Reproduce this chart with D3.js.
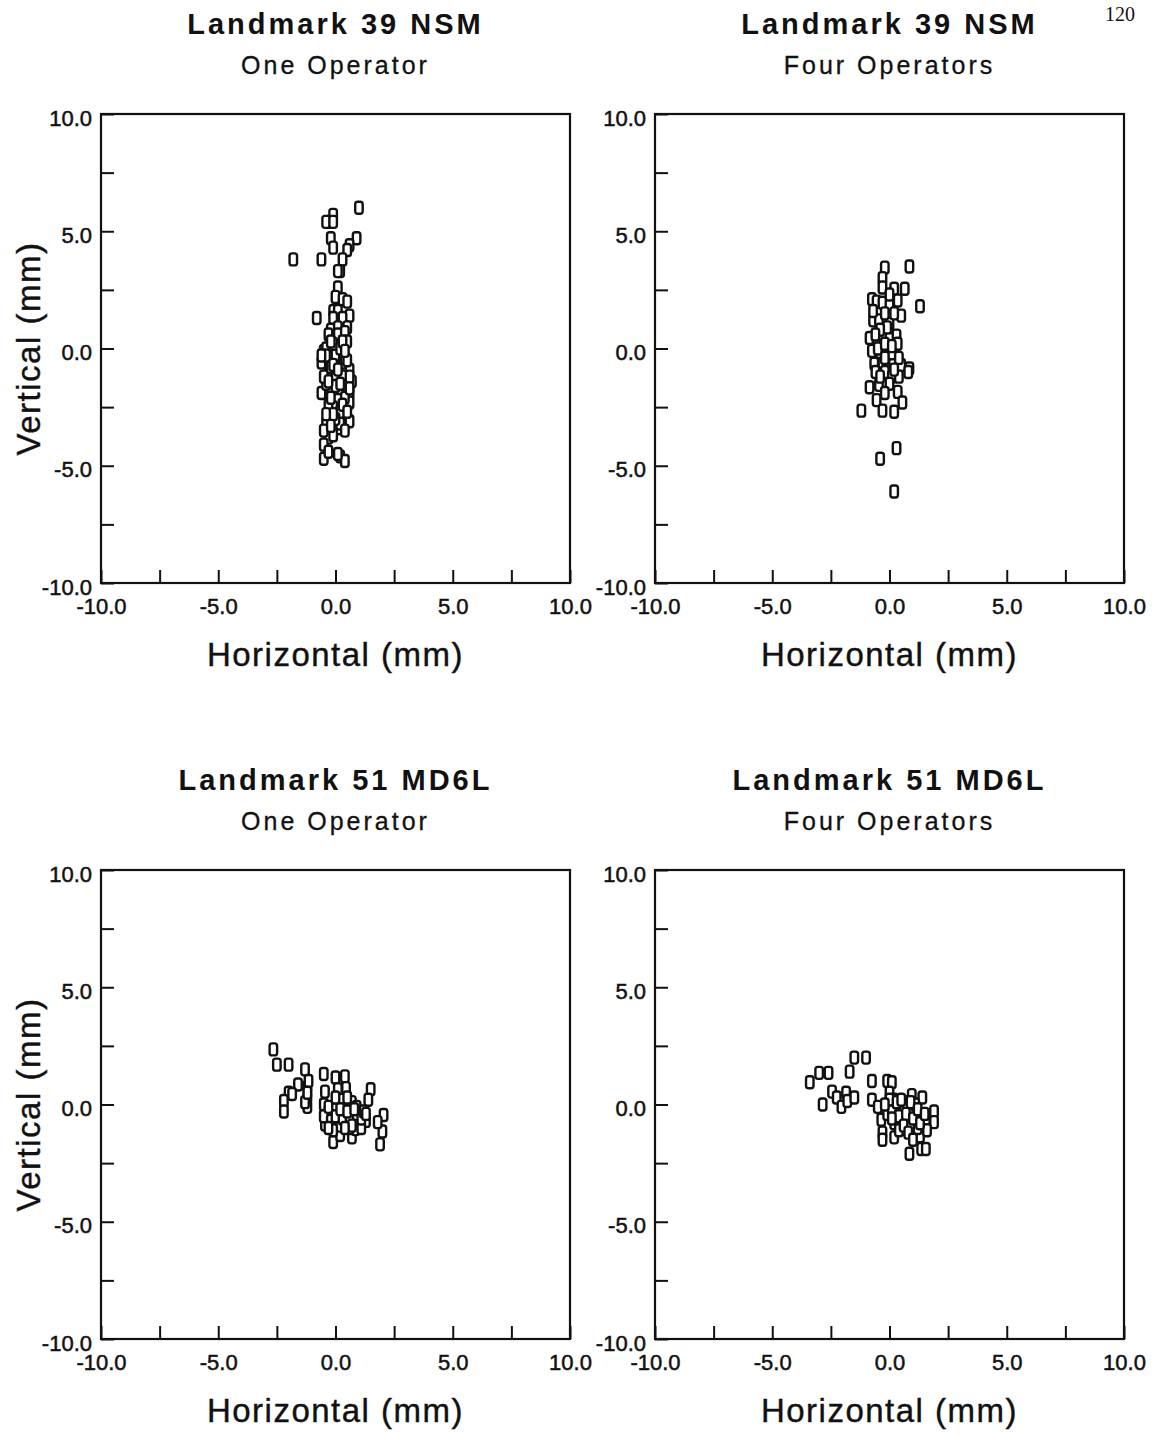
<!DOCTYPE html>
<html>
<head>
<meta charset="utf-8">
<script src="https://cdn.jsdelivr.net/npm/d3@7"></script>
<style>
  body { margin: 0; background: #fff; }
  svg text { font-family: "Liberation Sans", Arial, sans-serif; fill: #111; }
</style>
</head>
<body>
<div id="chart"></div>
<script>
// Titles for each panel (row by row)
const panelTitles = ["Landmark 39 NSM", "Landmark 39 NSM", "Landmark 51 MD6L", "Landmark 51 MD6L"];
const panelSubtitles = ["One Operator", "Four Operators", "One Operator", "Four Operators"];

// Axis ticks (mm)
const tickValues = [-10, -7.5, -5, -2.5, 0, 2.5, 5, 7.5, 10];
const labelValues = [-10, -5, 0, 5, 10];

// Landmark 39 NSM, one operator  [horizontal, vertical]
const nsmOne = [
  [1.0, 6.0], [-0.1, 5.7], [-0.3, 5.4], [-0.4, 5.4], [-0.1, 5.4], [-0.2, 4.7], [-0.1, 4.3],
  [0.9, 4.7], [0.6, 4.4], [0.5, 4.2], [-1.8, 3.8], [-0.6, 3.8], [0.3, 3.8], [0.2, 3.3],
  [0.1, 3.3], [0.1, 2.6], [0.0, 2.2], [0.3, 2.1], [0.5, 2.0], [-0.1, 1.6], [0.1, 1.6],
  [0.6, 1.4], [-0.8, 1.3], [-0.1, 1.3], [0.3, 1.3], [-0.2, 0.8], [0.1, 0.9], [0.5, 0.9],
  [-0.3, 0.6], [0.1, 0.6], [0.4, 0.7], [-0.5, -0.1], [-0.6, -0.6], [-0.1, -0.2], [0.2, -0.1],
  [0.1, -0.5], [-0.3, -1.1], [0.6, -0.9], [0.7, -1.4], [0.0, -1.2], [0.3, -1.2], [-0.6, -1.9],
  [-0.2, -1.8], [0.2, -1.9], [0.6, -1.9], [0.1, -2.2], [-0.1, -2.5], [0.6, -2.3], [-0.3, -3.0],
  [-0.4, -3.2], [0.6, -3.1], [0.1, -3.4], [0.2, -3.2], [-0.3, -3.8], [-0.5, -4.1], [-0.5, -4.7],
  [0.2, -4.6], [0.4, -4.8], [-0.4, 0.0], [0.0, -0.3], [-0.2, -0.8], [0.3, -0.6], [0.5, -1.6],
  [-0.4, -1.5], [0.0, -1.6], [0.4, -2.1], [-0.3, -2.4], [0.2, -2.7], [-0.5, -3.5], [0.0, -3.0],
  [0.6, -1.2], [0.1, -4.5], [-0.1, -3.7], [0.5, 0.3], [-0.1, 0.2], [0.2, 0.0], [-0.3, -4.4],
  [-0.2, 0.3], [0.3, 0.3], [-0.4, -0.3], [0.4, -0.4], [-0.1, -0.7], [0.5, -0.5], [-0.5, -1.2],
  [0.2, -1.5], [0.6, -1.7], [-0.2, -2.1], [0.3, -2.4], [0.5, -2.7], [-0.1, -2.8], [-0.4, -2.8],
  [0.4, -3.5], [-0.2, -3.3], [0.1, -0.9], [-0.3, -1.4], [0.4, -0.1], [-0.6, -0.3]
];

// Landmark 39 NSM, four operators
const nsmFour = [
  [0.85, 3.5], [-0.2, 3.45], [-0.3, 3.0], [-0.3, 2.6], [0.2, 2.55], [0.65, 2.55], [1.3, 1.8],
  [-0.75, 2.1], [-0.55, 2.0], [-0.3, 1.95], [0.0, 1.9], [0.35, 2.05], [0.5, 1.4], [-0.7, 1.2],
  [-0.45, 1.2], [0.0, 1.05], [-0.85, 0.45], [-0.55, 0.35], [-0.3, 0.55], [0.0, 0.4], [0.3, 0.55],
  [0.35, 0.2], [-0.75, -0.1], [-0.4, -0.15], [-0.1, -0.1], [0.2, -0.3], [-0.65, -0.65],
  [-0.3, -0.65], [0.15, -0.7], [0.5, -0.7], [0.85, -0.85], [-0.85, -1.65], [-0.45, -1.55],
  [0.35, -1.85], [-0.55, -2.2], [-0.3, -2.65], [0.2, -2.7], [0.55, -2.3], [-1.2, -2.65],
  [0.3, -4.25], [-0.4, -4.7], [0.2, -6.1], [-0.2, -1.0], [0.1, -1.2], [-0.6, -1.0], [0.4, -1.2],
  [-0.1, 0.9], [0.1, -0.2], [-0.4, 0.8], [0.2, 1.5], [-0.2, 1.5], [0.8, -1.0],
  [-0.5, 0.0], [-0.2, 0.2], [0.1, 0.1], [-0.6, 0.6], [-0.2, -0.4], [0.4, -0.4], [-0.4, -1.2],
  [0.0, -1.5], [-0.2, -1.9], [0.2, -0.9], [-0.7, 1.6], [0.0, 2.3]
];

// Landmark 51 MD6L, one operator
const md6lOne = [
  [-2.65, 2.35], [-2.5, 1.7], [-2.0, 1.7], [-1.3, 1.5], [-0.5, 1.3], [0.0, 1.15], [0.4, 1.2],
  [-1.6, 0.85], [-1.2, 0.75], [-2.0, 0.5], [-2.2, 0.15], [-2.2, -0.3], [-1.85, 0.45], [-1.2, 0.3],
  [-1.2, -0.1], [-1.3, 0.1], [1.5, 0.65], [1.4, 0.2], [2.05, -0.45], [2.0, -1.15], [1.9, -1.7],
  [1.8, -0.75], [-0.45, 0.55], [0.1, 0.65], [0.45, 0.7], [-0.45, -0.85], [-0.1, -1.6], [0.2, -1.3],
  [0.7, -1.4], [0.85, -1.05], [0.7, 0.1], [0.1, 0.1], [-0.5, 0.0], [-0.3, -0.3], [-0.5, -0.5],
  [0.0, -0.2], [0.2, -0.5], [0.4, -0.2], [0.6, -0.4], [0.8, -0.6], [1.0, -0.3], [1.2, -0.5],
  [1.3, -0.7], [1.0, -0.8], [0.5, -0.8], [0.2, -0.9], [-0.2, -0.7], [0.3, 0.2], [0.9, -0.1],
  [0.6, -1.0], [-0.1, -1.1], [1.1, -1.0], [0.0, -0.5], [0.3, -0.6], [0.6, -0.7], [0.9, -0.4],
  [1.1, -0.6], [0.2, -0.2], [0.5, -0.3], [0.8, -0.2], [1.2, -0.3], [-0.3, -0.1], [0.0, 0.3],
  [0.5, 0.3], [0.7, -0.9], [0.4, -1.0], [-0.3, -1.0], [1.3, -0.4], [-1.15, 1.0], [-1.2, 0.5]
];

// Landmark 51 MD6L, four operators
const md6lFour = [
  [-1.5, 2.0], [-1.0, 2.0], [-1.7, 1.4], [-3.4, 0.95], [-3.0, 1.35], [-2.6, 1.35], [-2.85, 0.0],
  [-2.45, 0.55], [-2.25, 0.3], [-2.05, -0.1], [-1.85, 0.5], [-1.8, 0.15], [-1.5, 0.3], [-0.75, 1.0],
  [-0.75, 0.2], [-0.1, 1.0], [0.1, 0.95], [-0.5, -0.1], [-0.35, -0.65], [-0.3, -1.2], [-0.3, -1.5],
  [0.2, -1.4], [0.55, -1.05], [0.95, 0.4], [1.4, 0.3], [1.9, -0.3], [1.9, -0.75], [1.55, -0.75],
  [0.85, -2.1], [1.35, -1.9], [1.55, -1.9], [1.3, -1.35], [0.0, 0.5], [0.2, 0.2], [0.0, -0.1],
  [0.3, -0.3], [0.6, -0.2], [0.8, -0.5], [1.0, -0.3], [1.2, -0.6], [0.5, -0.7], [0.9, -0.9],
  [1.2, -1.0], [0.2, -0.8], [-0.1, -0.4], [0.7, 0.1], [1.1, 0.0], [0.4, -1.1], [1.6, -1.1], [0.0, 0.2],
  [0.1, -0.3], [0.4, -0.5], [0.7, -0.4], [1.0, -0.6], [1.3, -0.8], [0.6, -0.9], [0.3, 0.1],
  [0.9, 0.1], [1.2, -0.2], [0.5, 0.2], [-0.2, 0.0], [0.1, -0.6], [0.8, -1.2], [1.0, -1.5], [1.5, -0.4]
];

const panelData = [nsmOne, nsmFour, md6lOne, md6lFour];

const width = 1159;
const height = 1435;
const plotSize = 469;
const colX = [101, 655];
const rowY = [114, 870];

const svg = d3.select("#chart")
    .append("svg")
    .attr("width", width)
    .attr("height", height);

// page number at the top right
svg.append("text")
    .attr("x", 1120)
    .attr("y", 21)
    .attr("text-anchor", "middle")
    .style("font-family", "'Liberation Serif', serif")
    .style("font-size", "20px")
    .text("120");

const x = d3.scaleLinear().domain([-10, 10]).range([0, plotSize]);
const y = d3.scaleLinear().domain([-10, 10]).range([plotSize, 0]);

// plain hyphen for negatives, like the original
const fmt = d => labelValues.includes(d) ? d3.format(".1f")(d).replace("\u2212", "-") : "";

panelData.forEach((pts, i) => {
    const col = i % 2;
    const row = Math.floor(i / 2);
    const g = svg.append("g")
        .attr("transform", `translate(${colX[col]},${rowY[row]})`);

    // title + subtitle
    g.append("text")
        .attr("x", plotSize / 2)
        .attr("y", -80)
        .attr("text-anchor", "middle")
        .style("font-size", "29px")
        .style("font-weight", "bold")
        .style("letter-spacing", "3px")
        .text(panelTitles[i]);
    g.append("text")
        .attr("x", plotSize / 2)
        .attr("y", -40)
        .attr("text-anchor", "middle")
        .style("font-size", "25px")
        .style("letter-spacing", "3px")
        .style("stroke", "#111")
        .style("stroke-width", 0.3)
        .text(panelSubtitles[i]);

    // frame
    g.append("rect")
        .attr("width", plotSize)
        .attr("height", plotSize)
        .attr("fill", "none")
        .attr("stroke", "#111")
        .attr("stroke-width", 2.2);

    // inward ticks on left and bottom
    const yAxis = g.append("g")
        .call(d3.axisLeft(y).tickValues(tickValues).tickSize(-13).tickPadding(9).tickFormat(fmt));
    yAxis.select(".domain").remove();
    yAxis.selectAll("line").attr("stroke", "#111").attr("stroke-width", 2);
    yAxis.selectAll("text")
        .attr("dy", "0.5em")
        .style("font-size", "22px")
        .style("font-family", "'Liberation Sans', Arial, sans-serif")
        .style("stroke", "#111")
        .style("stroke-width", 0.5)
        .attr("fill", "#111");

    const xAxis = g.append("g")
        .attr("transform", `translate(0,${plotSize})`)
        .call(d3.axisBottom(x).tickValues(tickValues).tickSize(-13).tickPadding(15).tickFormat(fmt));
    xAxis.select(".domain").remove();
    xAxis.selectAll("line").attr("stroke", "#111").attr("stroke-width", 2);
    xAxis.selectAll("text")
        .style("font-size", "22px")
        .style("font-family", "'Liberation Sans', Arial, sans-serif")
        .style("stroke", "#111")
        .style("stroke-width", 0.5)
        .attr("fill", "#111");

    // axis titles
    g.append("text")
        .attr("x", plotSize / 2)
        .attr("y", plotSize + 83)
        .attr("text-anchor", "middle")
        .style("font-size", "33px")
        .style("letter-spacing", "1.5px")
        .style("stroke", "#111")
        .style("stroke-width", 0.4)
        .text("Horizontal (mm)");
    if (col === 0) {
        g.append("text")
            .attr("transform", `translate(-61,${plotSize / 2}) rotate(-90)`)
            .attr("text-anchor", "middle")
            .style("font-size", "33px")
            .style("letter-spacing", "1.5px")
            .style("stroke", "#111")
            .style("stroke-width", 0.4)
            .text("Vertical (mm)");
    }

    // hollow rounded-box markers
    g.append("g")
        .selectAll("rect")
        .data(pts)
        .join("rect")
        .attr("x", d => x(d[0]) - 3.75)
        .attr("y", d => y(d[1]) - 6)
        .attr("width", 7.5)
        .attr("height", 12)
        .attr("rx", 2.5)
        .attr("fill", "#fff")
        .attr("stroke", "#111")
        .attr("stroke-width", 2.4);
});
</script>
</body>
</html>
